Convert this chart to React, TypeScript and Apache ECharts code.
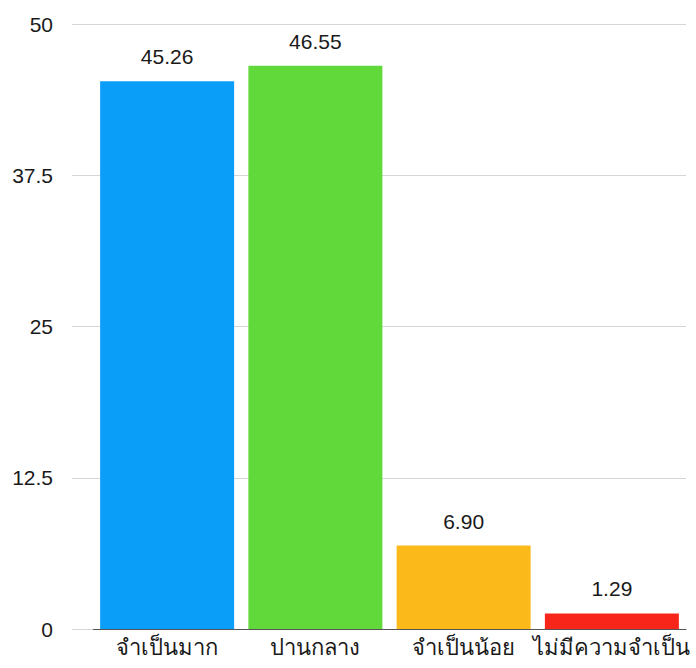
import React, { useEffect, useRef } from "react";
import * as echarts from "echarts";

const categories = ["จำเป็นมาก", "ปานกลาง", "จำเป็นน้อย", "ไม่มีความจำเป็น"];
const values = [45.26, 46.55, 6.9, 1.29];
const barColors = ["#0A9EF9", "#62D93A", "#FBBA1A", "#F8261A"];
const yTicks = [0, 12.5, 25, 37.5, 50];

const numFont = "'Liberation Sans', Arial, Helvetica, sans-serif";

export default function App() {
  const ref = useRef<HTMLDivElement>(null);
  useEffect(() => {
    if (!ref.current) return;
    const chart = echarts.init(ref.current, null, { renderer: "svg" });
    chart.setOption({
      animation: false,
      backgroundColor: "#ffffff",
      grid: { left: 93, right: 10, top: 24, bottom: 39 },
      xAxis: {
        type: "category",
        data: categories,
        axisLine: { lineStyle: { color: "#555555", width: 1 } },
        axisTick: { show: false },
        axisLabel: {
          interval: 0,
          color: "#1a1a1a",
          fontSize: 22,
          margin: 7,
          fontFamily: "sans-serif",
        },
      },
      yAxis: {
        type: "value",
        min: yTicks[0],
        max: yTicks[yTicks.length - 1],
        interval: 12.5,
        axisLine: { show: false },
        axisTick: { show: true, length: 21, lineStyle: { color: "#d6d6d6" } },
        splitLine: { lineStyle: { color: "#d6d6d6", width: 1 } },
        axisLabel: {
          color: "#1a1a1a",
          fontSize: 21,
          margin: 40,
          fontFamily: numFont,
        },
      },
      series: [
        {
          type: "bar",
          barWidth: 134,
          data: values.map((v, i) => ({ value: v, itemStyle: { color: barColors[i] } })),
          label: {
            show: true,
            position: "top",
            distance: 14,
            color: "#1a1a1a",
            fontSize: 21,
            fontFamily: numFont,
            formatter: (p: any) => Number(p.value).toFixed(2),
          },
        },
      ],
    });
    return () => chart.dispose();
  }, []);
  return (
    <div
      ref={ref}
      style={{ position: "fixed", left: 0, top: 0, width: 696, height: 668 }}
    />
  );
}
